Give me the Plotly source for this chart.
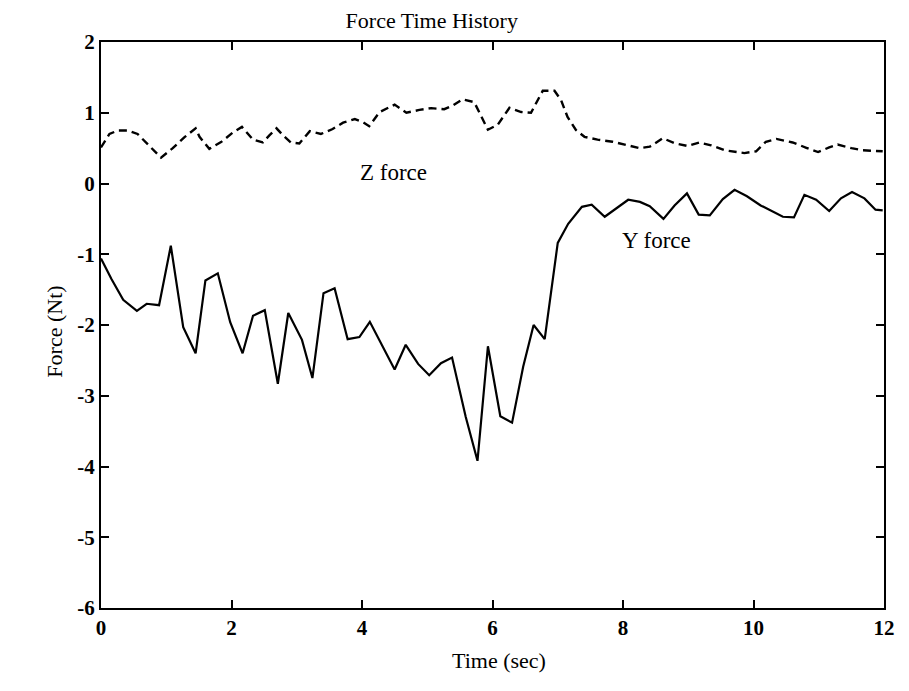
import plotly.graph_objects as go

# ---- data ----
time_y = [0.00, 0.16, 0.34, 0.55, 0.70, 0.89, 1.07, 1.26, 1.45, 1.60, 1.79, 1.98,
          2.17, 2.33, 2.51, 2.71, 2.87, 3.08, 3.24, 3.41, 3.58, 3.78, 3.96, 4.12,
          4.50, 4.67, 4.86, 5.03, 5.21, 5.38, 5.59, 5.77, 5.93, 6.12, 6.30, 6.47,
          6.63, 6.80, 7.00, 7.16, 7.37, 7.52, 7.72, 8.08, 8.26, 8.41, 8.62, 8.79,
          8.98, 9.16, 9.33, 9.53, 9.71, 9.90, 10.11, 10.27, 10.45, 10.62, 10.78,
          10.96, 11.16, 11.34, 11.51, 11.70, 11.87, 11.98]
force_y = [-1.06, -1.35, -1.645, -1.80, -1.70, -1.72, -0.88, -2.03, -2.40, -1.37,
           -1.27, -1.96, -2.40, -1.87, -1.79, -2.83, -1.83, -2.21, -2.75, -1.55,
           -1.48, -2.20, -2.17, -1.955, -2.63, -2.28, -2.55, -2.71, -2.54, -2.46,
           -3.30, -3.92, -2.30, -3.29, -3.38, -2.59, -2.00, -2.20, -0.84, -0.57,
           -0.33, -0.30, -0.47, -0.23, -0.26, -0.32, -0.50, -0.31, -0.14, -0.44,
           -0.45, -0.22, -0.09, -0.18, -0.31, -0.39, -0.47, -0.48, -0.16, -0.23,
           -0.39, -0.21, -0.12, -0.21, -0.37, -0.38]

time_z = [0.00, 0.13, 0.26, 0.41, 0.56, 0.74, 0.92, 1.10, 1.28, 1.45, 1.51, 1.66,
          1.84, 2.02, 2.16, 2.33, 2.48, 2.58, 2.69, 2.79, 2.91, 3.04, 3.20, 3.37,
          3.55, 3.71, 3.89, 4.01, 4.11, 4.27, 4.50, 4.68, 4.88, 5.06, 5.26, 5.39,
          5.54, 5.72, 5.83, 5.93, 6.08, 6.26, 6.44, 6.59, 6.77, 6.95, 7.05, 7.15,
          7.28, 7.41, 7.61, 7.84, 8.07, 8.25, 8.41, 8.61, 8.79, 8.99, 9.17, 9.35,
          9.56, 9.86, 10.04, 10.19, 10.35, 10.60, 10.81, 10.99, 11.16, 11.29,
          11.50, 11.67, 11.98]
force_z = [0.51, 0.70, 0.75, 0.75, 0.70, 0.53, 0.365, 0.50, 0.655, 0.78, 0.66, 0.49,
           0.585, 0.72, 0.80, 0.62, 0.58, 0.68, 0.78, 0.68, 0.58, 0.565, 0.74, 0.70,
           0.77, 0.86, 0.91, 0.87, 0.81, 1.01, 1.115, 1.00, 1.04, 1.065, 1.05, 1.10,
           1.19, 1.15, 0.95, 0.76, 0.83, 1.07, 1.01, 1.00, 1.31, 1.31, 1.18, 0.94,
           0.755, 0.66, 0.62, 0.59, 0.54, 0.50, 0.52, 0.64, 0.57, 0.53, 0.58, 0.54,
           0.47, 0.43, 0.455, 0.59, 0.63, 0.58, 0.505, 0.445, 0.51, 0.55, 0.50,
           0.47, 0.455]

x_ticks = [0, 2, 4, 6, 8, 10, 12]
x_tick_labels = ["0", "2", "4", "6", "8", "10", "12"]
y_ticks = [-6, -5, -4, -3, -2, -1, 0, 1, 2]
y_tick_labels = ["-6", "-5", "-4", "-3", "-2", "-1", "0", "1", "2"]

FONT = "Liberation Serif, Times New Roman, serif"

fig = go.Figure()
fig.add_trace(go.Scatter(x=time_z, y=force_z, mode="lines",
                         line=dict(color="black", width=2.4, dash="8px,5px"),
                         showlegend=False, hoverinfo="skip"))
fig.add_trace(go.Scatter(x=time_y, y=force_y, mode="lines",
                         line=dict(color="black", width=2.2),
                         showlegend=False, hoverinfo="skip"))

axis_common = dict(showgrid=False, zeroline=False, showline=True, linecolor="black",
                   linewidth=2, mirror="ticks", ticks="inside", ticklen=8,
                   tickwidth=1.5, tickcolor="black",
                   tickfont=dict(family=FONT, size=21, color="black", weight="bold"))

fig.update_xaxes(range=[0, 12], tickvals=x_ticks, ticktext=x_tick_labels, **axis_common)
fig.update_yaxes(range=[-6, 2], tickvals=y_ticks, ticktext=y_tick_labels, **axis_common)

fig.add_annotation(x=4.49, y=0.16, xref="x", yref="y", text="Z force", showarrow=False,
                   font=dict(family=FONT, size=23, color="black"))
fig.add_annotation(x=8.52, y=-0.80, xref="x", yref="y", text="Y force", showarrow=False,
                   font=dict(family=FONT, size=23, color="black"))
fig.add_annotation(x=0.508, y=-0.118, xref="paper", yref="paper", text="Time (sec)",
                   showarrow=False, font=dict(family=FONT, size=22, color="black"))
fig.add_annotation(x=-0.078, y=0.489, xref="paper", yref="paper", text="Force (Nt)",
                   showarrow=False, textangle=-90,
                   font=dict(family=FONT, size=22, color="black"))

fig.update_layout(
    width=909, height=691,
    margin=dict(l=101, r=25, t=42, b=83),
    paper_bgcolor="white", plot_bgcolor="white",
    title=dict(text="Force Time History", x=0.475, xanchor="center",
               y=1 - 20 / 691, yanchor="middle", yref="container",
               font=dict(family=FONT, size=22, color="black")),
)

fig.write_html("out.html")
